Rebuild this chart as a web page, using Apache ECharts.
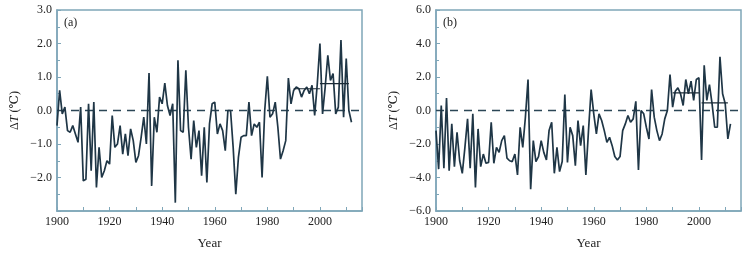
<!DOCTYPE html>
<html>
<head>
<meta charset="utf-8">
<script src="https://cdn.jsdelivr.net/npm/echarts@6/dist/echarts.min.js"></script>
<style>
  html, body { margin: 0; padding: 0; background: #fff; }
  #chart { width: 752px; height: 255px; }
</style>
</head>
<body>
<div id="chart"></div>
<script>

// years of the series (1900 - 2012)
var startYear = 1900;

// panel (a) temperature anomaly, degC
var anomalyA = [
    -0.45, 0.6, -0.1, 0.1, -0.6, -0.65, -0.45, -0.7, -0.95, 0.1,
    -2.1, -2.05, 0.2, -1.8, 0.25, -2.3, -1.1, -2.0, -1.8, -1.5,
    -1.6, -0.15, -1.1, -1.0, -0.45, -1.3, -0.7, -1.35, -0.55, -0.9,
    -1.55, -1.35, -0.8, -0.2, -1.0, 1.12, -2.25, -0.2, -0.65, 0.4,
    0.2, 0.82, 0.15, -0.15, 0.2, -2.75, 1.5, -0.6, -0.65, 1.2,
    -0.5, -1.45, -0.3, -1.1, -0.6, -1.95, -0.5, -2.15, -0.4, 0.2,
    0.25, -0.7, -0.4, -0.6, -1.2, 0.0, 0.0, -1.1, -2.5, -1.4,
    -0.8, -0.75, -0.75, 0.25, -0.75, -0.4, -0.5, -0.35, -2.0, 0.0,
    1.02, -0.2, -0.1, 0.25, -0.5, -1.45, -1.2, -0.9, 0.97, 0.2,
    0.6, 0.7, 0.65, 0.4, 0.6, 0.7, 0.5, 0.75, -0.15, 0.8,
    2.0, -0.1, 0.7, 1.65, 0.9, 1.1, -0.1, 0.1, 2.1, -0.2,
    1.55, 0.0, -0.35
];

// panel (b) temperature anomaly, degC
var anomalyB = [
    -1.2, -3.5, 0.3, -3.45, 0.75, -3.6, -0.8, -3.35, -1.3, -3.0,
    -3.75, -2.2, -0.5, -3.45, -0.2, -4.6, -1.1, -3.35, -2.6, -3.15,
    -3.1, -0.7, -3.15, -2.2, -2.5, -1.8, -1.5, -2.85, -3.0, -3.05,
    -2.6, -3.85, -1.0, -2.2, -0.4, 1.85, -4.7, -1.8, -3.05, -2.75,
    -1.8, -2.5, -2.95, -1.2, -0.7, -3.75, -2.2, -3.65, -3.05, 0.95,
    -3.1, -1.0, -1.5, -3.3, -0.6, -2.1, -0.9, -3.85, -1.2, 1.25,
    -0.2, -1.4, -0.2, -0.6, -1.2, -1.9, -1.6, -2.1, -2.75, -2.95,
    -2.75, -1.2, -0.8, -0.3, -0.7, -0.5, 0.55, -3.55, 0.0, -0.2,
    -1.0, -1.7, 1.25, -0.4, -1.2, -1.8, -1.4, -0.5, 0.0, 2.15,
    0.2, 1.15, 1.35, 1.0, 0.3, 1.85, 1.0, 1.75, 0.6, 1.85,
    1.95, -2.95, 2.7, 0.6, 1.55, 0.4, -1.0, -1.0, 3.2, 1.0,
    0.4, -1.7, -0.8
];

// decade means drawn as flat segments: [fromYear, toYear, value]
var meansA = [[1990, 2000, 0.65], [2000, 2011, 0.8]];
var meansB = [[1990, 2000, 1.05], [2001, 2011, 0.45]];

// axis settings
var yRangeA = [-3, 3, 1];
var yRangeB = [-6, 6, 2];
var xRange = [1900, 2016, 10];

var frameColor = '#7fa6b8';
var lineColor = '#1f3646';
var font = '"Liberation Serif", "DejaVu Serif", serif';


function toPairs(values) {
    var out = [];
    for (var i = 0; i < values.length; i++) {
        out.push([startYear + i, values[i]]);
    }
    return out;
}

function meanSeries(means, idx) {
    var list = [];
    for (var m = 0; m < means.length; m++) {
        list.push({
            type: 'line',
            xAxisIndex: idx,
            yAxisIndex: idx,
            data: [[means[m][0], means[m][2]], [means[m][1], means[m][2]]],
            symbol: 'none',
            silent: true,
            lineStyle: { color: '#1a2a36', width: 1.2 },
            z: 4
        });
    }
    return list;
}

function fmtY(v, lo) {
    if (v === lo) return '';
    return v.toFixed(1).replace('-', '\u2212');
}

function xAxisCfg(idx) {
    return {
        type: 'value',
        gridIndex: idx,
        min: xRange[0],
        max: xRange[1],
        interval: xRange[2],
        axisLine: { show: true, onZero: false, lineStyle: { color: frameColor, width: 1.5 } },
        axisTick: { show: true, inside: true, length: 4, lineStyle: { color: frameColor } },
        axisLabel: {
            color: '#222',
            fontFamily: font,
            fontSize: 12,
            margin: 5,
            formatter: function (v) {
                return (v % 20 === 0 && v <= 2000) ? String(v) : '';
            }
        },
        splitLine: { show: false },
        name: 'Year',
        nameLocation: 'middle',
        nameGap: 26,
        nameTextStyle: { color: '#222', fontFamily: font, fontSize: 13 }
    };
}

function yAxisCfg(idx, range, hideLow) {
    return {
        type: 'value',
        gridIndex: idx,
        min: range[0],
        max: range[1],
        interval: range[2],
        axisLine: { show: true, onZero: false, lineStyle: { color: frameColor, width: 1.5 } },
        axisTick: { show: true, inside: true, length: 4, lineStyle: { color: frameColor } },
        minorTick: { show: true, splitNumber: 2, length: 3, lineStyle: { color: frameColor } },
        axisLabel: {
            color: '#222',
            fontFamily: font,
            fontSize: 12,
            margin: 5,
            formatter: function (v) {
                return fmtY(v, hideLow ? range[0] : null);
            }
        },
        splitLine: { show: false },
        name: '{d|\u0394}{i|T}{d| (\u2103)}',
        nameLocation: 'middle',
        nameRotate: 90,
        nameGap: 36,
        nameTextStyle: {
            rich: {
                d: { fontFamily: font, fontSize: 12, color: '#222' },
                i: { fontFamily: font, fontSize: 12, color: '#222', fontStyle: 'italic' }
            }
        }
    };
}

function zeroLine(idx) {
    return {
        type: 'line',
        xAxisIndex: idx,
        yAxisIndex: idx,
        data: [[xRange[0], 0], [xRange[1], 0]],
        symbol: 'none',
        silent: true,
        lineStyle: { color: '#2b4656', width: 1.6, type: [8, 6] },
        z: 2
    };
}

function mainSeries(values, idx) {
    return {
        type: 'line',
        xAxisIndex: idx,
        yAxisIndex: idx,
        data: toPairs(values),
        symbol: 'none',
        silent: true,
        lineStyle: { color: lineColor, width: 1.7 },
        z: 3
    };
}

var chart = echarts.init(document.getElementById('chart'), null, { renderer: 'canvas' });

var series = [zeroLine(0), mainSeries(anomalyA, 0), zeroLine(1), mainSeries(anomalyB, 1)];
series = series.concat(meanSeries(meansA, 0), meanSeries(meansB, 1));

var option = {
    animation: false,
    backgroundColor: '#fff',
    grid: [
        { left: 57, top: 10, width: 305, height: 206, show: true, borderColor: frameColor, borderWidth: 1.5, backgroundColor: '#fff' },
        { left: 436, top: 10, width: 305, height: 206, show: true, borderColor: frameColor, borderWidth: 1.5, backgroundColor: '#fff' }
    ],
    xAxis: [xAxisCfg(0), xAxisCfg(1)],
    yAxis: [yAxisCfg(0, yRangeA, true), yAxisCfg(1, yRangeB, false)],
    graphic: [
        { type: 'text', left: 64, top: 17, style: { text: '(a)', font: '12px ' + font, fill: '#222' } },
        { type: 'text', left: 443, top: 17, style: { text: '(b)', font: '12px ' + font, fill: '#222' } }
    ],
    series: series
};

chart.setOption(option);

</script>
</body>
</html>
